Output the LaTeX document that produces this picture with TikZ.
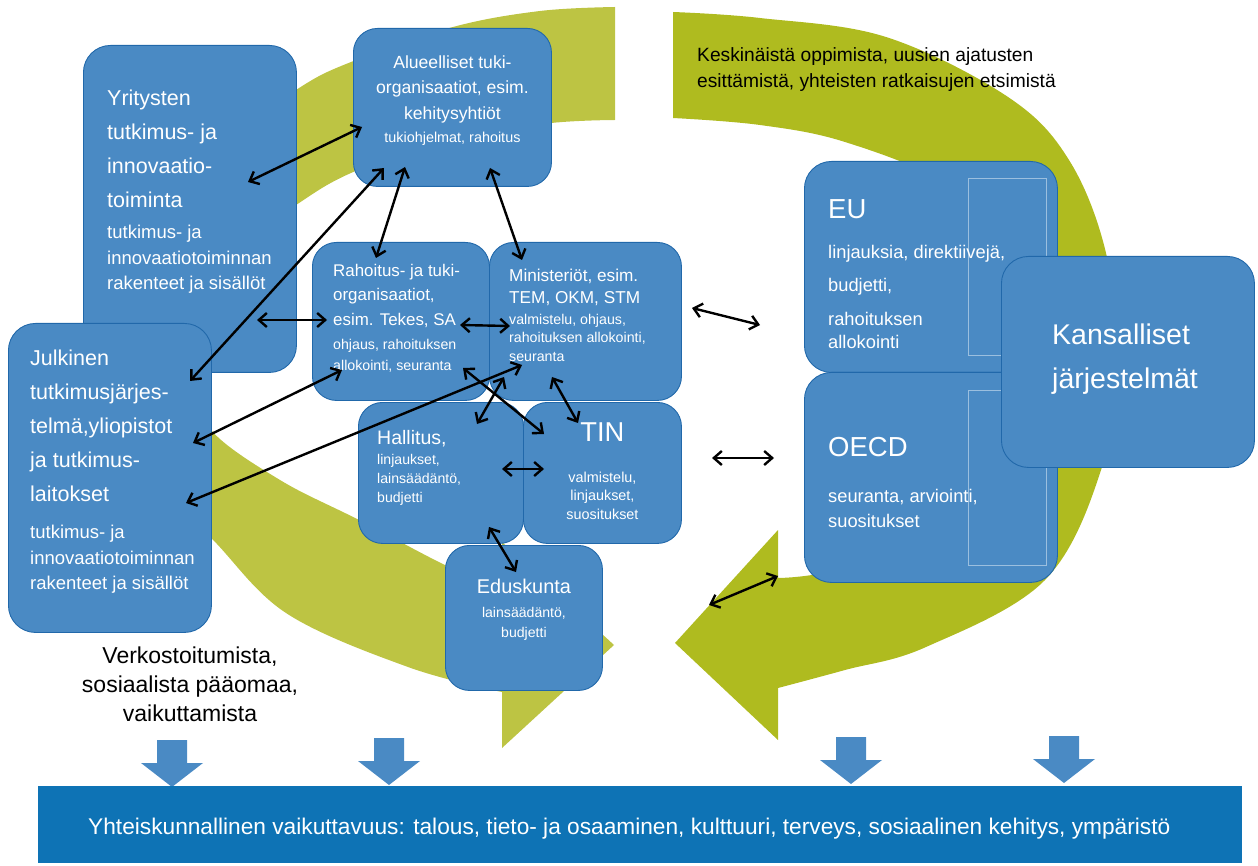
\documentclass[tikz,border=0pt]{standalone}
\usepackage{fontspec}
\setmainfont{Liberation Sans}
\usetikzlibrary{arrows.meta, positioning}
\definecolor{tinBlue}{HTML}{4A8AC4}
\definecolor{tinEdge}{HTML}{2168AA}
\definecolor{tinBand}{HTML}{0E73B5}
\definecolor{loopLight}{HTML}{BDC443}
\definecolor{loopDark}{HTML}{AFBB1F}

\begin{document}
\begin{tikzpicture}[x=1pt, y=-1pt,
  box/.style={draw=tinEdge, line width=0.9pt, fill=tinBlue, rounded corners=27pt,
    inner sep=0pt, anchor=north west},
  txt/.style={text=white, inner sep=0pt, align=left},
  ctxt/.style={text=white, inner sep=0pt, align=center},
  big/.style={font=\fontsize{21.5}{34}\selectfont},
  huge/.style={font=\fontsize{27.5}{44}\selectfont},
  mid/.style={font=\fontsize{18.5}{25.5}\selectfont},
  small/.style={font=\fontsize{14.2}{18.5}\selectfont},
  ghost/.style={draw=white!45!tinBlue, line width=0.5pt},
  link/.style={{Straight Barb[length=8pt,width=14pt]}-{Straight Barb[length=8pt,width=14pt]},
    line width=2.4pt}]
  \useasboundingbox (0,0) rectangle (1258,866);

  % the two feedback loops
  \fill[loopLight] plot[smooth, tension=0.6] coordinates {(615,7) (540,11) (453,27) (351,62)
      (296,90) (215,150) (140,240) (105,330) (115,420) (155,490) (210,537) (286,613)
      (408,667) (502,692)}
    -- (502,748) -- (614,645) -- (502,542)
    -- plot[smooth, tension=0.6] coordinates {(502,588) (449,567) (359,520) (280,480)
      (211,430) (195,380) (200,310) (240,245) (296,205) (351,173) (450,137) (551,123)
      (615,120)} -- cycle;
  \fill[loopDark] plot[smooth, tension=0.6] coordinates {(673,12) (760,18) (886,37)
      (1008,97) (1069,160) (1106,253) (1117,360) (1102,467) (1045,580) (926,647)
      (845,670) (778,688)}
    -- (778,740) -- (675,643) -- (778,530)
    -- plot[smooth, tension=0.6] coordinates {(778,578) (812,575) (900,560) (985,520)
      (1035,440) (1050,340) (1035,255) (950,185) (845,142) (760,125) (673,118)} -- cycle;

  \node[anchor=north west, inner sep=0pt, align=left, font=\fontsize{19.2}{26}\selectfont]
    (ke) at (697,47) {Keskinäistä oppimista, uusien ajatusten\\esittämistä, yhteisten ratkaisujen etsimistä};

  % actors
  \node[box, minimum width=213pt, minimum height=327pt] (yr) at (83,45) {};
  \node[txt, big, below right=45pt and 24pt of yr.north west] (yrT)
    {Yritysten\\tutkimus- ja\\innovaatio-\\toiminta};
  \node[txt, mid, below right=180pt and 24pt of yr.north west] (yrD)
    {tutkimus- ja\\innovaatiotoiminnan\\rakenteet ja sisällöt};

  \node[box, minimum width=198pt, minimum height=158pt, rounded corners=24pt] (al) at (353,28) {};
  \node[ctxt, font=\fontsize{17.6}{25.5}\selectfont, below=27.5pt of al.north] (alT)
    {Alueelliset tuki-\\organisaatiot, esim.\\kehitysyhtiöt};
  \node[ctxt, font=\fontsize{14.4}{18}\selectfont, below=104pt of al.north] (alD)
    {tukiohjelmat, rahoitus};

  \node[box, minimum width=203pt, minimum height=309pt] (ju) at (8,323) {};
  \node[txt, big, below right=27pt and 22pt of ju.north west] (juT)
    {Julkinen\\tutkimusjärjes-\\telmä,yliopistot\\ja tutkimus-\\laitokset};
  \node[txt, mid, below right=202pt and 22pt of ju.north west] (juD)
    {tutkimus- ja\\innovaatiotoiminnan\\rakenteet ja sisällöt};

  \node[box, minimum width=177pt, minimum height=158pt, rounded corners=24pt] (ra) at (312,242) {};
  \node[txt, font=\fontsize{16.9}{24.5}\selectfont, below right=22pt and 21pt of ra.north west] (raT)
    {Rahoitus- ja tuki-\\organisaatiot,\\esim. Tekes, SA};
  \node[txt, font=\fontsize{14.2}{21}\selectfont, below right=97pt and 21pt of ra.north west] (raD)
    {ohjaus, rahoituksen\\allokointi, seuranta};

  \node[box, minimum width=192pt, minimum height=158pt, rounded corners=24pt] (mi) at (489,242) {};
  \node[txt, font=\fontsize{17.2}{22}\selectfont, below right=26.6pt and 20pt of mi.north west] (miT)
    {Ministeriöt, esim.\\TEM, OKM, STM};
  \node[txt, small, below right=71.7pt and 20pt of mi.north west] (miD)
    {valmistelu, ohjaus,\\rahoituksen allokointi,\\seuranta};

  \node[box, minimum width=165pt, minimum height=141pt, rounded corners=24pt] (ha) at (358,402) {};
  \node[txt, font=\fontsize{19.5}{24}\selectfont, below right=28pt and 19pt of ha.north west] (haT)
    {Hallitus,};
  \node[txt, font=\fontsize{14.1}{19}\selectfont, below right=51.8pt and 19pt of ha.north west] (haD)
    {linjaukset,\\lainsäädäntö,\\budjetti};

  \node[box, minimum width=158pt, minimum height=141pt, rounded corners=24pt] (ti) at (523,402) {};
  \node[ctxt, font=\fontsize{27.3}{30}\selectfont, below=21pt of ti.north] (tiT) {TIN};
  \node[ctxt, font=\fontsize{14.4}{18.5}\selectfont, below=69.8pt of ti.north] (tiD)
    {valmistelu,\\linjaukset,\\suositukset};

  \node[box, minimum width=157pt, minimum height=145pt, rounded corners=24pt] (ed) at (445,545) {};
  \node[ctxt, font=\fontsize{19.9}{24}\selectfont, below=33.8pt of ed.north] (edT) {Eduskunta};
  \node[ctxt, font=\fontsize{14.1}{20}\selectfont, below=61.8pt of ed.north] (edD)
    {lainsäädäntö,\\budjetti};

  % international level
  \node[box, minimum width=253pt, minimum height=211pt] (eu) at (804,161) {};
  \draw[ghost] ([shift={(164,17)}]eu.north west) rectangle ([shift={(242,194)}]eu.north west);
  \node[txt, huge, below right=38.3pt and 24pt of eu.north west] (euT) {EU};
  \node[txt, font=\fontsize{18.3}{23}\selectfont, below right=84.4pt and 24pt of eu.north west] (euD)
    {linjauksia, direktiivejä,\\[10pt]budjetti,\\[11pt]rahoituksen\\allokointi};

  \node[box, minimum width=253pt, minimum height=210pt] (oe) at (804,372) {};
  \draw[ghost] ([shift={(164,18)}]oe.north west) rectangle ([shift={(242,193)}]oe.north west);
  \node[txt, huge, below right=65.3pt and 24pt of oe.north west] (oeT) {OECD};
  \node[txt, font=\fontsize{18.3}{25}\selectfont, below right=117.4pt and 24pt of oe.north west] (oeD)
    {seuranta, arviointi,\\suositukset};

  \node[box, minimum width=253pt, minimum height=211pt] (ka) at (1001,256) {};
  \node[txt, font=\fontsize{28.5}{44}\selectfont, below right=67.7pt and 51pt of ka.north west] (kaT)
    {Kansalliset\\järjestelmät};

  % outcomes
  \node[anchor=north, inner sep=0pt, align=center, font=\fontsize{23}{29}\selectfont]
    (ve) at (190,646.5) {Verkostoitumista,\\sosiaalista pääomaa,\\vaikuttamista};
  \foreach \cx/\ty in {172/740, 389/738, 851/737, 1064/736}
    \fill[tinBlue] (\cx-15,\ty) -- (\cx+15,\ty) -- (\cx+15,\ty+23) -- (\cx+31,\ty+23)
      -- (\cx,\ty+47) -- (\cx-31,\ty+23) -- (\cx-15,\ty+23) -- cycle;
  \node[fill=tinBand, inner sep=0pt, anchor=north west, minimum width=1204pt,
    minimum height=77pt] (im) at (38,786) {};
  \node[text=white, inner sep=0pt, anchor=west, font=\fontsize{22.7}{26}\selectfont]
    (imT) at ([shift={(50,4)}]im.west)
    {Yhteiskunnallinen vaikuttavuus: talous, tieto- ja osaaminen, kulttuuri, terveys, sosiaalinen kehitys, ympäristö};

  % interaction arrows
  \draw[link] ([shift={(165,137)}]yr.north west) -- ([shift={(9,99)}]al.north west);
  \draw[link] ([shift={(31,140)}]al.north west) -- ([shift={(182,58)}]ju.north west);
  \draw[link] ([shift={(52,139)}]al.north west) -- ([shift={(64,16)}]ra.north west);
  \draw[link] ([shift={(137,140)}]al.north west) -- ([shift={(33,18)}]mi.north west);
  \draw[link] ([shift={(174,275)}]yr.north west) -- ([shift={(15,78)}]ra.north west);
  \draw[link] ([shift={(148,83)}]ra.north west) -- ([shift={(21,84)}]mi.north west);
  \draw[link] ([shift={(185,120)}]ju.north west) -- ([shift={(30,128)}]ra.north west);
  \draw[link] ([shift={(178,180)}]ju.north west) -- ([shift={(33,123)}]mi.north west);
  \draw[link] ([shift={(151,126)}]ra.north west) -- ([shift={(21,32)}]ti.north west);
  \draw[link] ([shift={(15,135)}]mi.north west) -- ([shift={(119,22)}]ha.north west);
  \draw[link] ([shift={(63,135)}]mi.north west) -- ([shift={(55,21)}]ti.north west);
  \draw[link] ([shift={(144,67)}]ha.north west) -- ([shift={(21,67)}]ti.north west);
  \draw[link] ([shift={(131,125)}]ha.north west) -- ([shift={(71,27)}]ed.north west);
  \draw[link] ([shift={(203,66)}]mi.north west) -- ([shift={(-44,164)}]eu.north west);
  \draw[link] ([shift={(189,56)}]ti.north west) -- ([shift={(-30,86)}]oe.north west);
  \draw[link] ([shift={(264,60)}]ed.north west) -- ([shift={(-26,204)}]oe.north west);
\end{tikzpicture}
\end{document}
